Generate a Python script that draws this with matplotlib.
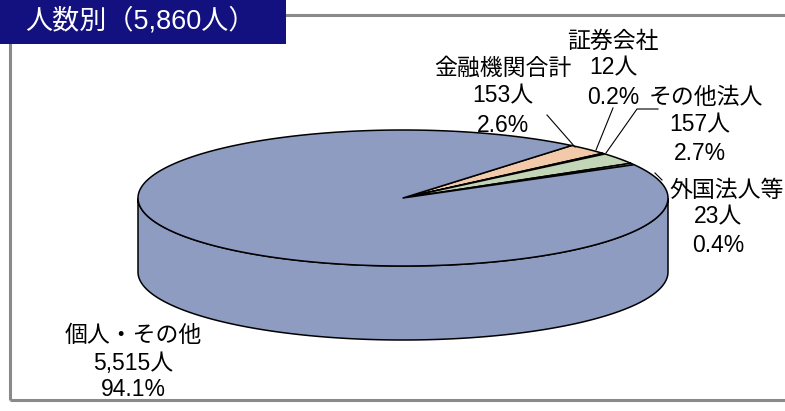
import numpy as np
import matplotlib
matplotlib.use("Agg")
import matplotlib.pyplot as plt
from matplotlib.patches import Polygon, Rectangle

plt.rcParams['font.family'] = ['Liberation Sans', 'Noto Sans CJK JP', 'DejaVu Sans']

# ---- data ----
categories = ['金融機関合計', '証券会社', 'その他法人', '外国法人等', '個人・その他']
counts = [153, 12, 157, 23, 5515]
percents = [2.6, 0.2, 2.7, 0.4, 94.1]
title = '人数別（5,860人）'
colors = ['#F2C9A9', '#E9E2C4', '#C2D5B6', '#D5DCEA', '#8E9CC2']

# ---- layout ----
W, H = 785, 411
fig = plt.figure(figsize=(W / 100, H / 100), dpi=100)
ax = fig.add_axes([0, 0, 1, 1])
ax.set_xlim(0, W)
ax.set_ylim(H, 0)
ax.axis('off')

cx, cy = 403, 198
rx, ry = 265, 68
depth = 74
start = np.deg2rad(50.5)

def pt(t, dz=0.0):
    return cx + rx * np.cos(t), cy - ry * np.sin(t) + dz

total = sum(counts)
fracs = [c / total for c in counts]
bounds = [start]
for f in fracs:
    bounds.append(bounds[-1] - f * 2 * np.pi)

# side faces (front half only)
for i, col in enumerate(colors):
    a0, a1 = bounds[i], bounds[i + 1]
    ts = np.linspace(a0, a1, 600)
    front = np.sin(ts) <= 0
    runs = []
    cur = []
    for t, fr in zip(ts, front):
        if fr:
            cur.append(t)
        elif cur:
            runs.append(cur); cur = []
    if cur:
        runs.append(cur)
    for run in runs:
        run = np.array(run)
        top = [pt(t) for t in run]
        bot = [pt(t, depth) for t in run[::-1]]
        ax.add_patch(Polygon(top + bot, closed=True, facecolor=col,
                             edgecolor='black', linewidth=1.1, zorder=2))

# top wedges
for i, col in enumerate(colors):
    a0, a1 = bounds[i], bounds[i + 1]
    ts = np.linspace(a0, a1, max(8, int(abs(a0 - a1) * 200)))
    poly = [(cx, cy)] + [pt(t) for t in ts]
    ax.add_patch(Polygon(poly, closed=True, facecolor=col,
                         edgecolor='black', linewidth=1.1, zorder=3,
                         joinstyle='round'))

# labels
fs = 16.5
def label(lines, xs, ys):
    for s, x, y in zip(lines, xs, ys):
        ax.text(x, y, s, ha='center', va='center', fontsize=fs, color='black', zorder=5)

def lines_for(i):
    return [categories[i], f'{counts[i]:,}人', f'{percents[i]}%']

label(lines_for(0), [503, 503, 503], [68, 96, 125])
label(lines_for(1), [613, 613, 613], [41, 68, 97])
label(lines_for(2), [706, 700, 700], [97, 125, 153])
label(lines_for(3), [727, 718, 718], [190, 217, 245])
label(lines_for(4), [133, 133, 133], [335, 363, 389])

# leader lines
lk = dict(color='black', linewidth=0.8, zorder=4)
ax.plot([547, 575], [115, 147], **lk)
ax.plot([613, 596], [108, 150], **lk)
ax.plot([658, 637, 606], [109, 109, 153], **lk)
ax.plot([655, 662], [173, 180], **lk)

# frame
fk = dict(color='#8a8a8a', linewidth=2.2, zorder=1, solid_capstyle='butt')
ax.plot([10, 10], [15, 400], **fk)
ax.plot([10, W], [400, 400], **fk)
ax.plot([10, W], [15, 15], **fk)

# title box
ax.add_patch(Rectangle((0, 0), 286, 44, facecolor='#13107F', edgecolor='none', zorder=6))
ax.text(140, 21, title, ha='center', va='center', fontsize=19.5, color='white', zorder=7)

fig.savefig('out.png', dpi=100)
